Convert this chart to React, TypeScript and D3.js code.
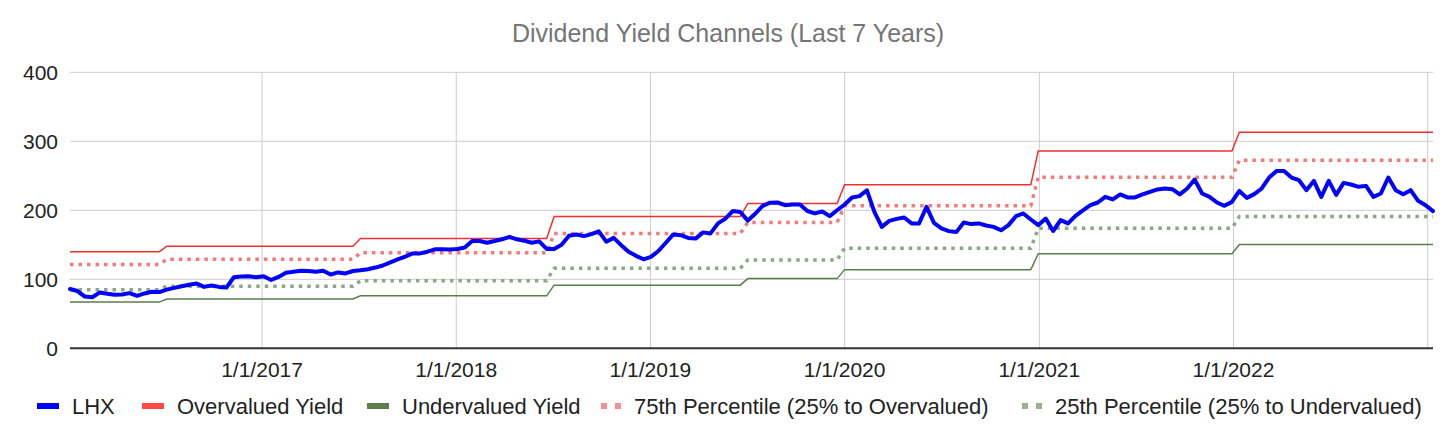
import * as React from "react";
import { line, scaleLinear, scaleUtc, utcDay } from "d3";

const startDate = "2016-01-06"; // biweekly observations from here
const lhxValues = [
  86, 83, 75, 74, 81, 79, 77.5, 78, 80, 76, 79.5, 82, 81.5, 85, 87.5, 90, 92, 94, 89, 91,
  89, 88, 103, 104, 104.5, 103, 104.5, 99, 103.5, 109.5, 111, 112.5, 112, 111, 112.4, 107, 110, 108.5, 112, 113,
  114.5, 117, 120, 124.5, 129, 133, 137.5, 137.5, 140, 143.5, 143.4, 143.3, 144, 146, 155.5, 155.5, 153, 155.5, 158, 161.5,
  158, 156, 153, 155, 144, 144, 150, 163, 165, 162.5, 165.5, 169.5, 154.5, 160, 149.5, 140, 134, 129, 132.5, 141,
  153, 165, 164, 160, 159, 168, 166.5, 181, 188, 199, 197.5, 185, 195, 206.5, 211, 211.3, 207.4, 208.4, 208.4, 199,
  195.5, 198.3, 191.5, 200, 208.4, 218.6, 220.5, 229, 197.7, 176, 184.7, 187.6, 189.6, 181, 181, 205, 181.8, 173.7, 169.8, 168.4,
  182.4, 180, 181, 178, 176, 171, 178.5, 191.5, 195.4, 186.7, 178.5, 188, 170, 185.7, 181, 192, 200, 207.4, 211.3, 219.5,
  215.7, 223, 218.6, 218.6, 223, 226.7, 230.2, 231.6, 230.6, 223, 231.6, 244.6, 224.4, 219.5, 211.3, 206.5, 212.2, 228, 218, 223.4,
  231.6, 247.5, 257, 257, 247.5, 243.6, 229.2, 242.6, 219.5, 242.6, 222.3, 239.7, 237.4, 234, 235.4, 219.5, 224.4, 247.5, 229.2, 223.4,
  229.2, 213.7, 207.4, 198.8,
];

// channel levels, each valid from its date onwards
const bandDates = ["2016-01-06", "2016-07-06", "2017-07-05", "2018-07-04", "2019-07-03", "2020-01-01", "2020-12-30", "2022-01-12"];
const overvalued = [140, 148, 159, 191, 210, 237, 286, 313];
const pct75 = [121.5, 129, 138.5, 166.5, 182.5, 206.5, 248, 272.5];
const pct25 = [85, 90, 98, 116, 128, 145, 174, 191];
const undervalued = [67, 71.5, 76, 91.5, 101, 114, 137, 150.5];

const yTicks = [0, 100, 200, 300, 400];
const xTicks = ["2017-01-01", "2018-01-01", "2019-01-01", "2020-01-01", "2021-01-01", "2022-01-01"];
const xTickLabels = ["1/1/2017", "1/1/2018", "1/1/2019", "1/1/2020", "1/1/2021", "1/1/2022"];
const xGridOnly = ["2023-01-01"];

const FONT = "Arial, 'Liberation Sans', sans-serif";

const dates = lhxValues.map((_, i) => utcDay.offset(new Date(startDate), 14 * i));
const bandStarts = bandDates.map((d) => new Date(d));

function bandAt(levels: number[], d: Date) {
  let v = levels[0];
  bandStarts.forEach((s, i) => {
    if (s <= d) v = levels[i];
  });
  return v;
}

const series = [
  { name: "Overvalued Yield", levels: overvalued, color: "#f03030", width: 1.5, dash: null },
  { name: "Undervalued Yield", levels: undervalued, color: "#5b7f4b", width: 1.5, dash: null },
  { name: "75th Percentile (25% to Overvalued)", levels: pct75, color: "#f47a7a", width: 3.5, dash: "3.5 5" },
  { name: "25th Percentile (25% to Undervalued)", levels: pct25, color: "#8ea688", width: 3.5, dash: "3.5 5" },
];

const legend = [
  { label: "LHX", color: "#0000ff", dotted: false, x: 72 },
  { label: "Overvalued Yield", color: "#ff4a4a", dotted: false, x: 177 },
  { label: "Undervalued Yield", color: "#5b7f4b", dotted: false, x: 402 },
  { label: "75th Percentile (25% to Overvalued)", color: "#f59090", dotted: true, x: 634 },
  { label: "25th Percentile (25% to Undervalued)", color: "#98b092", dotted: true, x: 1055 },
];

export default function App() {
  const width = 1456;
  const height = 439;
  const left = 70;
  const right = 1433;
  const top = 72.3;
  const bottom = 348.3;

  const x = scaleUtc().domain([dates[0], dates[dates.length - 1]]).range([left, right]);
  const y = scaleLinear().domain([0, 400]).range([bottom, top]);

  const path = line<number>()
    .x((_, i) => x(dates[i]))
    .y((v) => y(v));

  return (
    <svg
      width={width}
      height={height}
      style={{ position: "absolute", left: 0, top: 0, background: "#fff" }}
      fontFamily={FONT}
    >
      <text x={728} y={41.5} textAnchor="middle" fontSize={25} fill="#757575">
        Dividend Yield Channels (Last 7 Years)
      </text>

      {yTicks.map((t) => (
        <g key={`y-${t}`}>
          {t > 0 && <line x1={left} x2={right} y1={y(t)} y2={y(t)} stroke="#cccccc" strokeWidth={1} />}
          <text x={58} y={y(t) + 7.5} textAnchor="end" fontSize={21} fill="#222">
            {t}
          </text>
        </g>
      ))}

      {[...xTicks, ...xGridOnly].map((d) => (
        <line key={`xg-${d}`} x1={x(new Date(d))} x2={x(new Date(d))} y1={top} y2={bottom} stroke="#cccccc" strokeWidth={1} />
      ))}
      {xTicks.map((d, i) => (
        <text key={`xl-${d}`} x={x(new Date(d))} y={377} textAnchor="middle" fontSize={21} fill="#222">
          {xTickLabels[i]}
        </text>
      ))}

      {series.map((s) => (
        <path
          key={s.name}
          d={path(dates.map((d) => bandAt(s.levels, d))) || ""}
          fill="none"
          stroke={s.color}
          strokeWidth={s.width}
          strokeDasharray={s.dash || undefined}
        />
      ))}

      <path
        d={path(lhxValues) || ""}
        fill="none"
        stroke="#0000ff"
        strokeWidth={4}
        strokeLinejoin="round"
        strokeLinecap="round"
      />

      <line x1={left} x2={right} y1={bottom} y2={bottom} stroke="#333" strokeWidth={2} />

      {legend.map((l) => (
        <g key={l.label}>
          {l.dotted ? (
            <>
              <rect x={l.x - 33} y={403} width={6} height={6} fill={l.color} />
              <rect x={l.x - 19} y={403} width={6} height={6} fill={l.color} />
            </>
          ) : (
            <rect x={l.x - 35} y={403} width={22} height={6} fill={l.color} />
          )}
          <text x={l.x} y={414} fontSize={22} fill="#222">
            {l.label}
          </text>
        </g>
      ))}
    </svg>
  );
}
